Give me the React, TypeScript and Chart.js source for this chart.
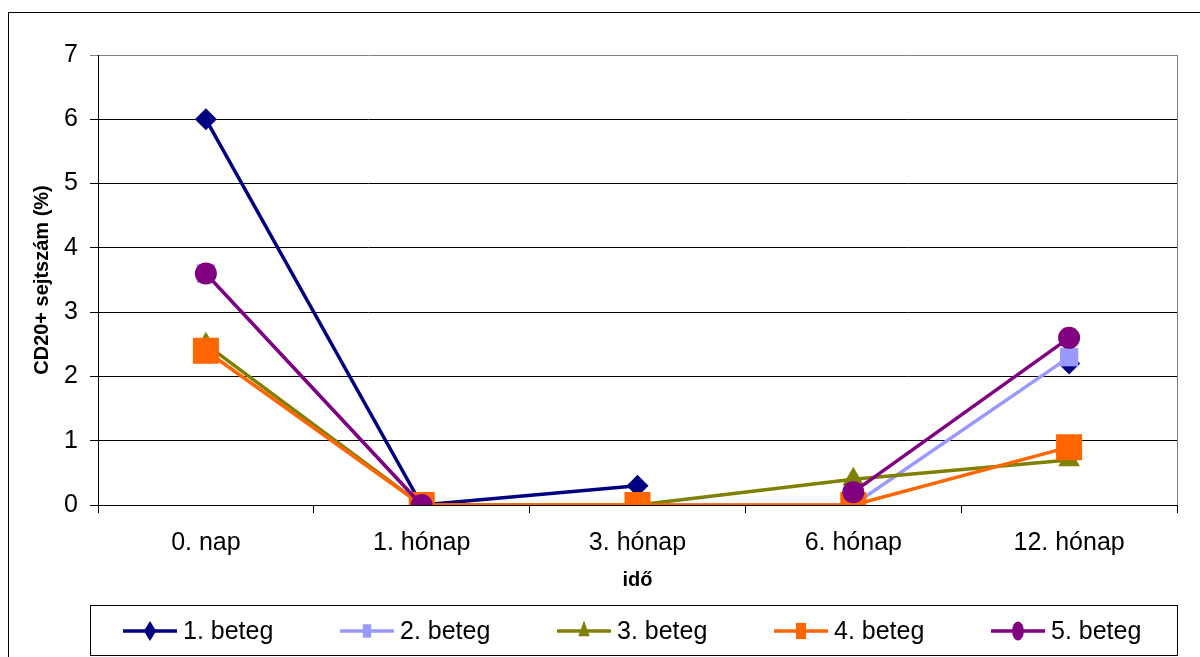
import React, { useEffect, useRef } from "react";
import { Chart, registerables } from "chart.js";
import { drawPoint } from "chart.js/helpers";

Chart.register(...registerables);

const categories = ["0. nap", "1. hónap", "3. hónap", "6. hónap", "12. hónap"];
const seriesNames = ["1. beteg", "2. beteg", "3. beteg", "4. beteg", "5. beteg"];
const beteg1 = [6, 0, 0.3, null, 2.2];
const beteg2 = [3.6, 0, 0, 0, 2.3];
const beteg3 = [2.5, 0, 0, 0.4, 0.7];
const beteg4 = [2.4, 0, 0, 0, 0.9];
const beteg5 = [3.6, 0, null, 0.2, 2.6];
const seriesValues = [beteg1, beteg2, beteg3, beteg4, beteg5];
const seriesColors = ["#000080", "#9999FF", "#808000", "#FF6600", "#800080"];
const seriesMarkers = ["rectRot", "rect", "triangle", "rect", "circle"];
const markerRadii = [11, 13, 12.5, 18.4, 11];
const legendRadii = [10, 9.5, 10.5, 11.5, 9.5];
const yMin = 0;
const yMax = 7;
const yStep = 1;
const yTitle = "CD20+ sejtszám (%)";
const xTitle = "idő";

const FONT = "'Liberation Sans', Arial, sans-serif";

const framePlugin = {
  id: "frame",
  beforeDraw(chart: any) {
    const ctx = chart.ctx;
    ctx.save();
    ctx.fillStyle = "#ffffff";
    ctx.fillRect(0, 0, chart.width, chart.height);
    ctx.restore();
  },
  afterDraw(chart: any) {
    const ctx = chart.ctx;
    const area = chart.chartArea;
    ctx.save();
    // outer frame
    ctx.strokeStyle = "#000000";
    ctx.lineWidth = 1;
    ctx.strokeRect(8.5, 12.5, 1400, 800);
    // plot area right border
    ctx.strokeStyle = "#808080";
    ctx.beginPath();
    ctx.moveTo(Math.round(area.right) + 0.5, area.top);
    ctx.lineTo(Math.round(area.right) + 0.5, area.bottom);
    ctx.stroke();
    // legend box
    const lx = 90.5;
    const ly = 605.5;
    const lw = Math.round(area.right) - 90;
    const lh = 50;
    ctx.strokeStyle = "#000000";
    ctx.lineWidth = 1;
    ctx.strokeRect(lx, ly, lw, lh);
    const cy = 631;
    chart.data.datasets.forEach((ds: any, i: number) => {
      const x0 = 123 + i * 217;
      ctx.strokeStyle = ds.borderColor;
      ctx.lineWidth = 3.5;
      ctx.beginPath();
      ctx.moveTo(x0, cy);
      ctx.lineTo(x0 + 54, cy);
      ctx.stroke();
      ctx.save();
      ctx.translate(x0 + 27, cy);
      ctx.scale(0.62, 1);
      ctx.fillStyle = ds.backgroundColor;
      drawPoint(ctx, { pointStyle: ds.pointStyle, radius: legendRadii[i], borderWidth: 0, rotation: 0 } as any, 0, 0);
      ctx.restore();
      ctx.fillStyle = "#000000";
      ctx.font = `25px ${FONT}`;
      ctx.textBaseline = "middle";
      ctx.textAlign = "left";
      ctx.fillText(ds.label, x0 + 60, cy + 1);
    });
    ctx.restore();
  },
};

export default function App() {
  const ref = useRef<HTMLCanvasElement | null>(null);
  useEffect(() => {
    if (!ref.current) return;
    const datasets = seriesNames.map((name, i) => ({
      label: name,
      data: seriesValues[i],
      borderColor: seriesColors[i],
      backgroundColor: seriesColors[i],
      borderWidth: 3.5,
      pointStyle: seriesMarkers[i],
      pointRadius: markerRadii[i],
      pointHoverRadius: markerRadii[i],
      pointBorderWidth: 0,
      pointBackgroundColor: seriesColors[i],
      spanGaps: false,
      tension: 0,
      order: seriesNames.length - i,
    }));
    const chart = new Chart(ref.current, {
      type: "line",
      data: { labels: categories, datasets },
      options: {
        animation: false,
        responsive: false,
        events: [],
        layout: { padding: { left: 0, top: 55, right: 23, bottom: 59 } },
        plugins: { legend: { display: false }, tooltip: { enabled: false } },
        scales: {
          x: {
            type: "category",
            offset: true,
            grid: {
              offset: true,
              drawOnChartArea: false,
              drawTicks: true,
              tickLength: 8,
              color: "#000000",
            },
            border: { color: "#000000", width: 1 },
            ticks: { color: "#000000", font: { family: FONT, size: 25 }, padding: 15, maxRotation: 0 },
            title: {
              display: true,
              text: xTitle,
              color: "#000000",
              font: { family: FONT, size: 20, weight: "bold" },
              padding: { top: 0, bottom: 6 },
            },
            afterFit(scale: any) {
              scale.height = 93;
            },
          },
          y: {
            min: yMin,
            max: yMax,
            ticks: { stepSize: yStep, color: "#000000", font: { family: FONT, size: 25 }, padding: 12 },
            grid: {
              color: (c: any) => (c.tick && c.tick.value === yMax ? "#808080" : "#000000"),
              lineWidth: 1,
              tickLength: 8,
              drawTicks: true,
            },
            border: { color: "#000000", width: 1 },
            title: {
              display: true,
              text: yTitle,
              color: "#000000",
              font: { family: FONT, size: 20, weight: "bold" },
              padding: { top: 30, bottom: 0 },
            },
            afterFit(scale: any) {
              scale.width = 98;
            },
          },
        },
      },
      plugins: [framePlugin],
    } as any);
    return () => chart.destroy();
  }, []);
  return (
    <div style={{ position: "absolute", left: 0, top: 0, width: 1200, height: 657, background: "#fff" }}>
      <canvas ref={ref} width={1200} height={657} style={{ display: "block", width: 1200, height: 657 }} />
    </div>
  );
}
